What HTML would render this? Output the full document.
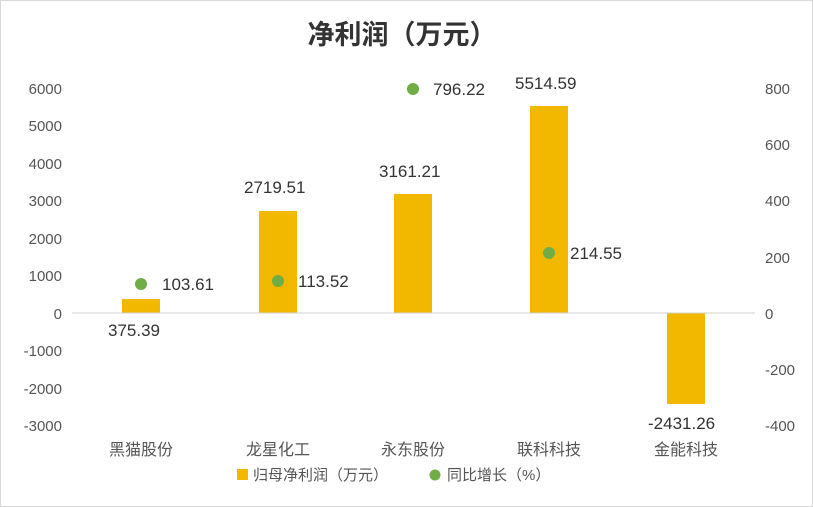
<!DOCTYPE html>
<html><head><meta charset="utf-8"><style>
body{margin:0;background:#fff}
svg{display:block}
text{font-family:"Liberation Sans","Noto Sans CJK SC",sans-serif}
</style></head><body>
<svg width="813" height="507" viewBox="0 0 813 507">
<rect x="0.5" y="0.5" width="812" height="506" fill="#fff" stroke="#d9d9d9"/>
<text x="402" y="44" font-size="27" font-weight="bold" text-anchor="middle" fill="#333" font-family="Noto Sans CJK SC, sans-serif">净利润（万元）</text>
<g font-size="15" fill="#555" text-anchor="end">
<text x="62" y="94">6000</text><text x="62" y="131">5000</text><text x="62" y="169">4000</text><text x="62" y="206">3000</text><text x="62" y="244">2000</text><text x="62" y="281">1000</text><text x="62" y="319">0</text><text x="62" y="356">-1000</text><text x="62" y="394">-2000</text><text x="62" y="431">-3000</text>
</g>
<g font-size="15" fill="#555" text-anchor="start">
<text x="765" y="94">800</text><text x="765" y="150">600</text><text x="765" y="206">400</text><text x="765" y="263">200</text><text x="765" y="319">0</text><text x="765" y="375">-200</text><text x="765" y="431">-400</text>
</g>
<g fill="#f2b800">
<rect x="122" y="299" width="38" height="14"/>
<rect x="259" y="211" width="38" height="102"/>
<rect x="394" y="194" width="38" height="119"/>
<rect x="530" y="106" width="38" height="207"/>
<rect x="667" y="313" width="38" height="91"/>
</g>
<line x1="72" y1="313" x2="755" y2="313" stroke="#d0d0d0"/>
<g fill="#70ad47">
<circle cx="141" cy="284" r="6"/><circle cx="278" cy="281" r="6"/><circle cx="413" cy="89" r="6"/><circle cx="549" cy="253" r="6"/>
</g>
<g font-size="17" fill="#333">
<text x="108" y="336">375.39</text>
<text x="244" y="193">2719.51</text>
<text x="379" y="177">3161.21</text>
<text x="515" y="89">5514.59</text>
<text x="648" y="429">-2431.26</text>
<text x="162" y="290">103.61</text>
<text x="298" y="287">113.52</text>
<text x="433" y="95">796.22</text>
<text x="570" y="259">214.55</text>
</g>
<g font-size="16" fill="#555" text-anchor="middle" font-family="Noto Sans CJK SC, sans-serif">
<text x="141" y="455">黑猫股份</text><text x="278" y="455">龙星化工</text><text x="413" y="455">永东股份</text><text x="549" y="455">联科科技</text><text x="686" y="455">金能科技</text>
</g>
<rect x="237" y="469" width="11" height="11" fill="#f2b800"/>
<text x="253" y="480" font-size="15" fill="#555" font-family="Noto Sans CJK SC, sans-serif">归母净利润（万元）</text>
<circle cx="435" cy="475" r="5.5" fill="#70ad47"/>
<text x="447" y="480" font-size="15" fill="#555" font-family="Noto Sans CJK SC, sans-serif">同比增长（%）</text>
</svg>
</body></html>
